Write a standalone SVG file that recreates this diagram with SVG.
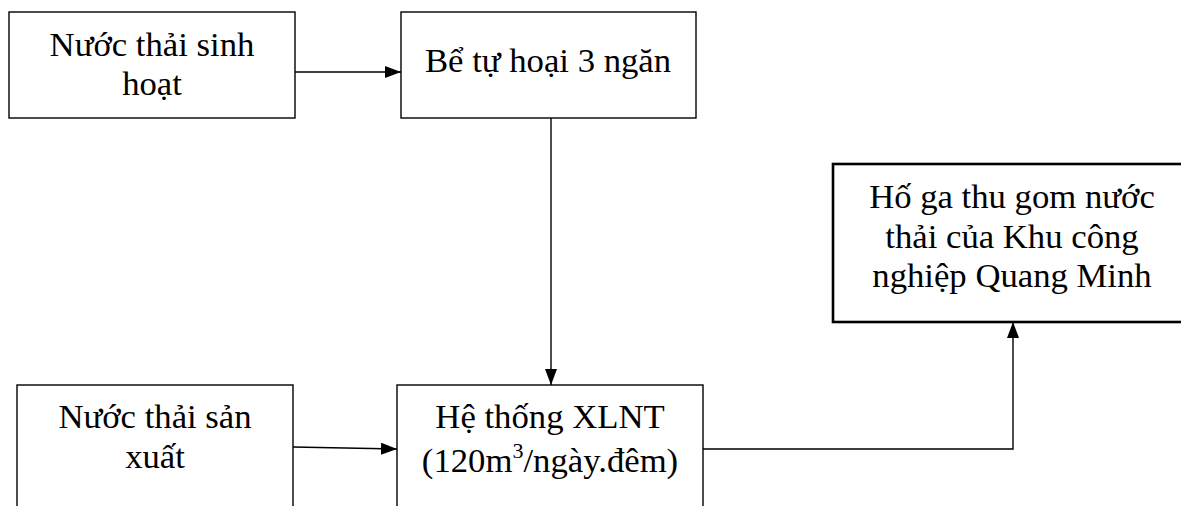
<svg xmlns="http://www.w3.org/2000/svg" width="1181" height="506" viewBox="0 0 1181 506">
<style>
.box{fill:#fff;stroke:#000;stroke-width:1.4}
.thick{stroke-width:2.6}
.t{font-family:"Liberation Serif","Times New Roman",serif;font-size:34.7px;fill:#000;text-anchor:middle}
.c{fill:none;stroke:#000;stroke-width:1.4}
</style>
<defs>
<marker id="ah" viewBox="0 0 16 12" refX="16" refY="6" markerWidth="16" markerHeight="12" markerUnits="userSpaceOnUse" orient="auto">
<path d="M0,0 L16,6 L0,12 Z" fill="#000"/>
</marker>
</defs>
<rect width="1181" height="506" fill="#fff"/>
<g id="n1">
<rect class="box" x="9" y="12" width="286" height="106"/>
<text class="t" x="152" y="56">Nước thải sinh</text>
<text class="t" x="152" y="95">hoạt</text>
</g>
<g id="n2">
<rect class="box" x="401" y="12" width="295" height="106"/>
<text class="t" x="548" y="72">Bể tự hoại 3 ngăn</text>
</g>
<g id="n3">
<rect class="box thick" x="833" y="164" width="360" height="158"/>
<text class="t" x="1012" y="208">Hố ga thu gom nước</text>
<text class="t" x="1012" y="248">thải của Khu công</text>
<text class="t" x="1012" y="287">nghiệp Quang Minh</text>
</g>
<g id="n4">
<rect class="box" x="17" y="385" width="276" height="140"/>
<text class="t" x="155" y="428">Nước thải sản</text>
<text class="t" x="155" y="468">xuất</text>
</g>
<g id="n5">
<rect class="box" x="397" y="385" width="306" height="140"/>
<text class="t" x="550" y="428">Hệ thống XLNT</text>
<text class="t" x="550" y="472">(120m<tspan font-size="22px" dy="-14">3</tspan><tspan dy="14">/ngày.đêm)</tspan></text>
</g>
<g id="connectors">
<line class="c" x1="295" y1="72" x2="401" y2="72" marker-end="url(#ah)"/>
<line class="c" x1="551" y1="118" x2="551" y2="385" marker-end="url(#ah)"/>
<line class="c" x1="293" y1="447" x2="397" y2="449" marker-end="url(#ah)"/>
<polyline class="c" points="703,449 1013,449 1013,322" marker-end="url(#ah)"/>
</g>
</svg>
